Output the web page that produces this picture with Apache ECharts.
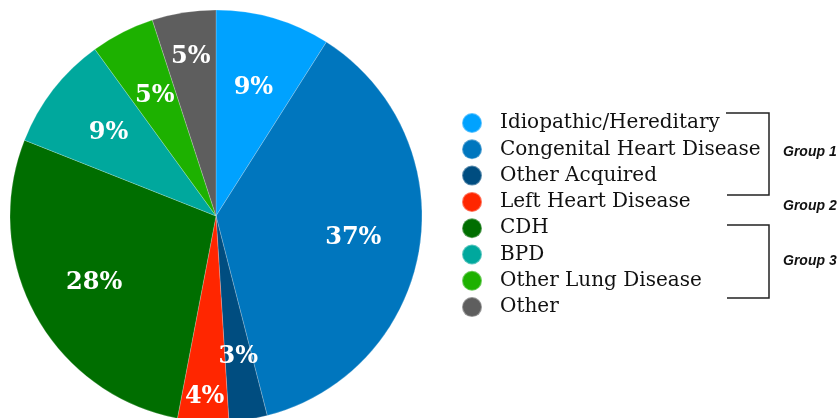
<!DOCTYPE html>
<html>
<head>
<meta charset="utf-8">
<script src="https://cdn.jsdelivr.net/npm/echarts@6/dist/echarts.min.js"></script>
<style>
html,body{margin:0;padding:0;background:#fff;}
#chart{width:840px;height:418px;}
</style>
</head>
<body>
<div id="chart"></div>
<script>
const categories = ['Idiopathic/Hereditary','Congenital Heart Disease','Other Acquired','Left Heart Disease','CDH','BPD','Other Lung Disease','Other'];
const values = [9, 37, 3, 4, 28, 9, 5, 5];
const colors = ['#00A2FF','#0076BE','#004D80','#FF2600','#006E00','#00A89D','#1DB100','#5E5E5E'];
const groupLabels = ['Group 1','Group 2','Group 3'];

const cx = 216, cy = 216, R = 206;
// label distance from the centre, per slice (layout only)
const labelDist = [134, 139, 143, 181, 139, 136, 135, 161];

const chart = echarts.init(document.getElementById('chart'), null, {renderer:'canvas'});
const data = categories.map((c, i) => ({name: c, value: values[i], itemStyle: {color: colors[i]}}));

const groupFont = 'italic bold 14px "Liberation Sans", Arial';

chart.setOption({
  animation: false,
  legend: {
    orient: 'vertical',
    left: 456,
    top: 107,
    icon: 'circle',
    itemWidth: 46,
    itemHeight: 20,
    itemGap: 4.3,
    selectedMode: false,
    textStyle: {fontFamily: 'DejaVu Serif', fontSize: 20, color: '#111'},
    data: categories
  },
  series: [{
    type: 'pie',
    center: [cx, cy],
    radius: [0, R],
    startAngle: 90,
    clockwise: true,
    silent: true,
    data: data,
    itemStyle: {borderColor: 'rgba(255,255,255,0.35)', borderWidth: 0.6},
    label: {
      show: true,
      position: 'inside',
      formatter: '{c}%',
      color: '#fff',
      fontFamily: 'DejaVu Serif',
      fontWeight: 'bold',
      fontSize: 24
    },
    labelLine: {show: false},
    labelLayout: function (p) {
      const r = p.labelRect;
      const lx = r.x + r.width / 2, ly = r.y + r.height / 2;
      const k = labelDist[p.dataIndex] / Math.hypot(lx - cx, ly - cy);
      return {dx: (lx - cx) * (k - 1), dy: (ly - cy) * (k - 1)};
    }
  }],
  graphic: [
    {type: 'polyline', shape: {points: [[726, 113], [769, 113], [769, 195], [727, 195]]}, style: {stroke: '#222', lineWidth: 1.5, fill: null}},
    {type: 'polyline', shape: {points: [[727, 225], [769, 225], [769, 298], [727, 298]]}, style: {stroke: '#222', lineWidth: 1.5, fill: null}},
    {type: 'text', left: 783, top: 145, style: {text: groupLabels[0], font: groupFont, fill: '#111'}},
    {type: 'text', left: 783, top: 199, style: {text: groupLabels[1], font: groupFont, fill: '#111'}},
    {type: 'text', left: 783, top: 254, style: {text: groupLabels[2], font: groupFont, fill: '#111'}}
  ]
});
</script>
</body>
</html>
